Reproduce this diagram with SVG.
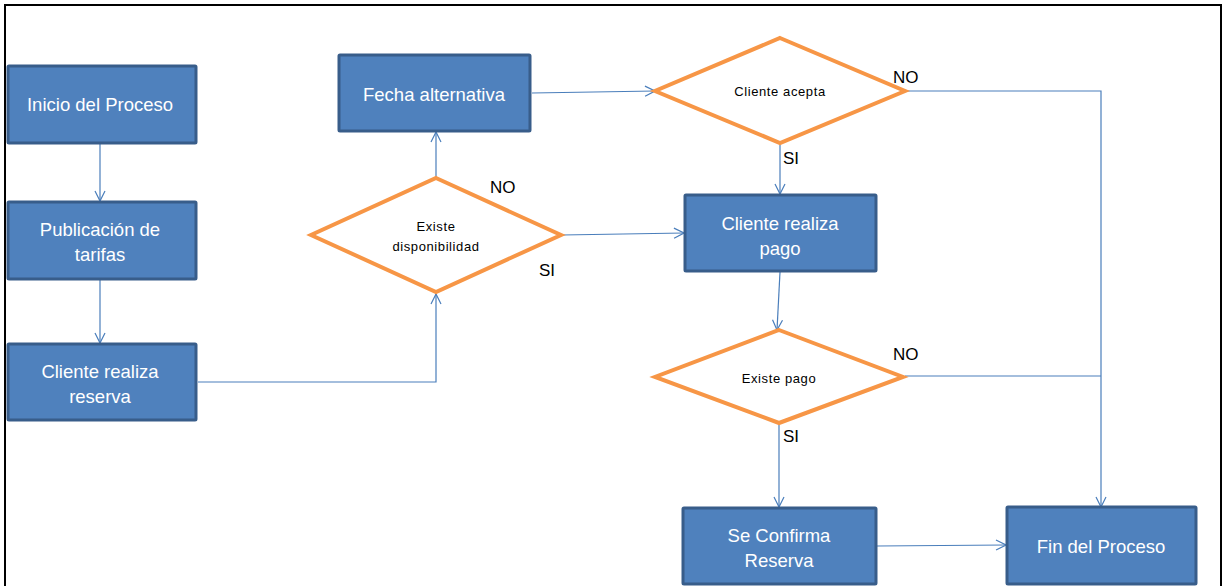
<svg xmlns="http://www.w3.org/2000/svg" width="1225" height="586" viewBox="0 0 1225 586">
  <style>
    .box { fill: #4f81bd; stroke: #385d8a; stroke-width: 3; }
    .dec { fill: #ffffff; stroke: #f79646; stroke-width: 4; stroke-linejoin: miter; }
    .btxt { font-family: "Liberation Sans", Arial, sans-serif; font-size: 18.5px; fill: #ffffff; text-anchor: middle; dominant-baseline: central; }
    .dtxt { font-family: "Liberation Sans", Arial, sans-serif; font-size: 13px; fill: #000000; text-anchor: middle; dominant-baseline: central; letter-spacing: 0.6px; }
    .lbl { font-family: "Liberation Sans", Arial, sans-serif; font-size: 17px; fill: #000000; }
    .con { fill: none; stroke: #4a7ebb; stroke-width: 1.2; }
    .arr { marker-end: url(#open); }
  </style>
  <defs>
    <marker id="open" viewBox="0 0 12 12" refX="11" refY="6" markerWidth="12" markerHeight="12" markerUnits="userSpaceOnUse" orient="auto">
      <path d="M1,1 L11,6 L1,11" fill="none" stroke="#4a7ebb" stroke-width="1.2"/>
    </marker>
  </defs>

  <rect x="0" y="0" width="1225" height="586" fill="#ffffff"/>
  <!-- page frame -->
  <path d="M5,590 L5,5 L1221,5 L1221,590" fill="none" stroke="#000000" stroke-width="2"/>

  <!-- connectors -->
  <g id="connectors">
    <path class="con arr" d="M100,144 L100,201"/>
    <path class="con arr" d="M100,280 L100,343"/>
    <path class="con arr" d="M198,382 L436,382 L436,294"/>
    <path class="con arr" d="M436,177 L436,132"/>
    <path class="con arr" d="M562,235 L684,233"/>
    <path class="con arr" d="M532,93 L655,91"/>
    <path class="con arr" d="M780,145 L780,194"/>
    <path class="con arr" d="M907,91 L1101,91 L1101,507"/>
    <path class="con arr" d="M780,272 L777,330"/>
    <path class="con" d="M905,376 L1101,376"/>
    <path class="con arr" d="M779,424 L779,507"/>
    <path class="con arr" d="M877,546 L1006,545"/>
  </g>

  <!-- connector labels -->
  <g id="labels">
    <text class="lbl" x="490" y="193">NO</text>
    <text class="lbl" x="539" y="276">SI</text>
    <text class="lbl" x="893" y="83">NO</text>
    <text class="lbl" x="783" y="164">SI</text>
    <text class="lbl" x="893" y="360">NO</text>
    <text class="lbl" x="783" y="442">SI</text>
  </g>

  <g id="inicio">
    <rect class="box" x="8" y="66" width="188" height="77" rx="1"/>
    <text class="btxt" x="100" y="104">Inicio del Proceso</text>
  </g>

  <g id="publicacion">
    <rect class="box" x="8" y="202" width="188" height="77" rx="1"/>
    <text class="btxt" x="100" y="229">Publicación de</text>
    <text class="btxt" x="100" y="254">tarifas</text>
  </g>

  <g id="reserva">
    <rect class="box" x="8" y="344" width="188" height="76" rx="1"/>
    <text class="btxt" x="100" y="371">Cliente realiza</text>
    <text class="btxt" x="100" y="396">reserva</text>
  </g>

  <g id="disponibilidad">
    <polygon class="dec" points="436,178 561,235 436,292 311,235"/>
    <text class="dtxt" x="436" y="226">Existe</text>
    <text class="dtxt" x="436" y="246">disponibilidad</text>
  </g>

  <g id="fecha">
    <rect class="box" x="339" y="55" width="191" height="76" rx="1"/>
    <text class="btxt" x="434" y="94">Fecha alternativa</text>
  </g>

  <g id="acepta">
    <polygon class="dec" points="780,38 905,91 780,143 655,91"/>
    <text class="dtxt" x="780" y="91">Cliente acepta</text>
  </g>

  <g id="pago">
    <rect class="box" x="685" y="195" width="191" height="76" rx="1"/>
    <text class="btxt" x="780" y="223">Cliente  realiza</text>
    <text class="btxt" x="780" y="248">pago</text>
  </g>

  <g id="existe-pago">
    <polygon class="dec" points="779,330 903,377 779,423 655,377"/>
    <text class="dtxt" x="779" y="378">Existe  pago</text>
  </g>

  <g id="confirma">
    <rect class="box" x="683" y="508" width="193" height="76" rx="1"/>
    <text class="btxt" x="779" y="535">Se Confirma</text>
    <text class="btxt" x="779" y="560">Reserva</text>
  </g>

  <g id="fin">
    <rect class="box" x="1007" y="507" width="189" height="77" rx="1"/>
    <text class="btxt" x="1101" y="546">Fin del Proceso</text>
  </g>
</svg>
